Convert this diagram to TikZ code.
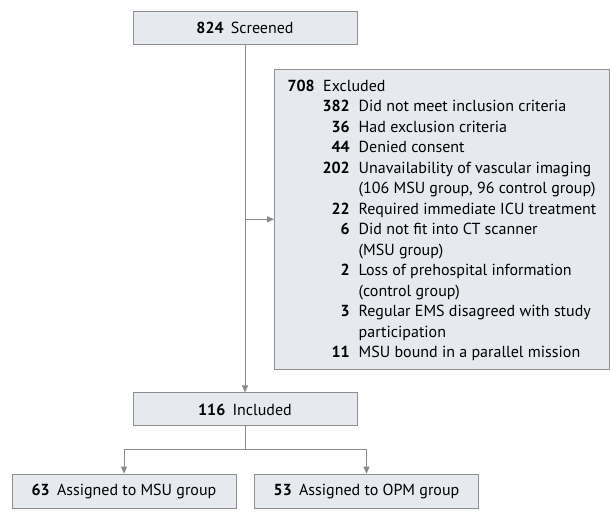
\documentclass[tikz,border=0pt]{standalone}
\usepackage{fontspec}
\setmainfont{PT Sans}
\usetikzlibrary{arrows.meta}
\definecolor{boxfill}{HTML}{E6EAEF}
\definecolor{boxline}{HTML}{8E8E8E}
\definecolor{conn}{HTML}{8A8A8A}
\newcommand\exitem[3]{%
  \node[numst] (n#1) at (350,{91+20.5*#1}) {\textbf{#2}};
  \node[txtst] (t#1) at (358.5,{91+20.5*#1}) {#3};}
\begin{document}
\begin{tikzpicture}[x=1pt,y=-1pt,
  font=\fontsize{16}{19}\selectfont,
  box/.style={draw=boxline, fill=boxfill, line width=1pt, inner sep=0pt, minimum height=33pt},
  numst/.style={anchor=base east, inner sep=0pt},
  txtst/.style={anchor=base west, inner sep=0pt},
  conline/.style={draw=conn, line width=1pt},
  arr/.style={conline, -{Triangle[length=7pt,width=6pt]}, color=conn}]
\useasboundingbox (0,0) rectangle (610,527);
\node[box, minimum width=224pt] (screened) at (245,28.2) {\textbf{824}\hspace{0.45em}Screened};
\node[box, minimum width=335pt, minimum height=300pt] (excl) at (442,219.3) {};
\node[box, minimum width=224pt] (included) at (245,409.4) {\textbf{116}\hspace{0.45em}Included};
\node[box, minimum width=224pt, minimum height=34pt] (msu) at (124,491.2) {\textbf{63}\hspace{0.45em}Assigned to MSU group};
\node[box, minimum width=224pt, minimum height=34pt] (opm) at (366.5,491.2) {\textbf{53}\hspace{0.45em}Assigned to OPM group};
\node[numst] (n0) at (315,91) {\textbf{708}};
\node[txtst] (t0) at (323,91) {Excluded};
\exitem{1}{382}{Did not meet inclusion criteria}
\exitem{2}{36}{Had exclusion criteria}
\exitem{3}{44}{Denied consent}
\exitem{4}{202}{Unavailability of vascular imaging}
\exitem{5}{}{(106 MSU group, 96 control group)}
\exitem{6}{22}{Required immediate ICU treatment}
\exitem{7}{6}{Did not fit into CT scanner}
\exitem{8}{}{(MSU group)}
\exitem{9}{2}{Loss of prehospital information}
\exitem{10}{}{(control group)}
\exitem{11}{3}{Regular EMS disagreed with study}
\exitem{12}{}{participation}
\exitem{13}{11}{MSU bound in a parallel mission}
\coordinate (branch) at (245,219.3);
\coordinate (split) at (245,449.3);
\draw[arr] (screened.south) -- (included.north);
\draw[arr] (branch) -- (excl.west);
\draw[conline] (included.south) -- (split);
\draw[arr] (split) -| (msu.north);
\draw[arr] (split) -| (opm.north);
\end{tikzpicture}
\end{document}
